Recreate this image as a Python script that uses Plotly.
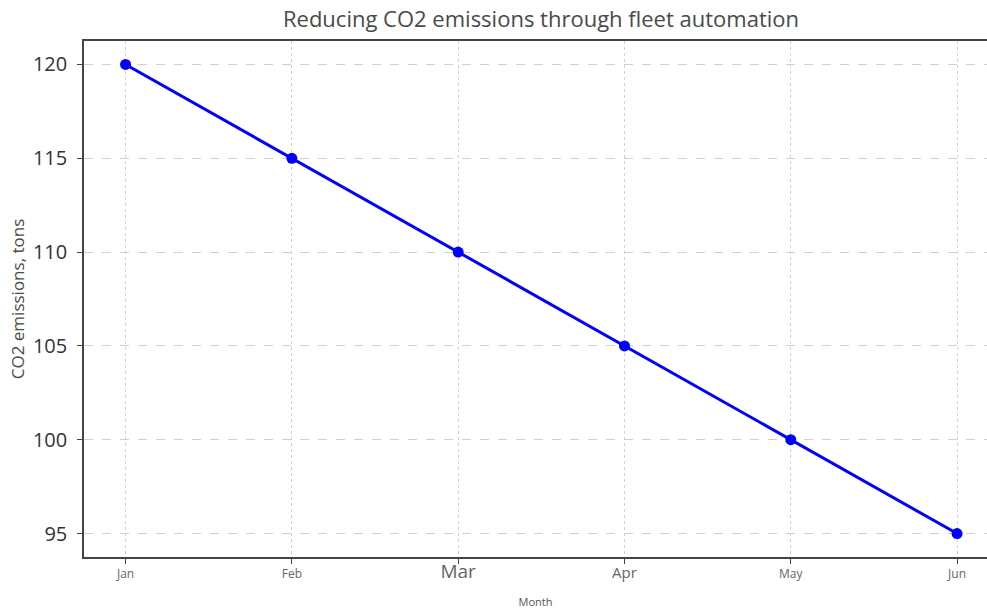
import plotly.graph_objects as go

months = ["Jan", "Feb", "Mar", "Apr", "May", "Jun"]
emissions = [120, 115, 110, 105, 100, 95]
month_label_sizes = [12, 12, 19, 15, 12, 12]
y_ticks = [95, 100, 105, 110, 115, 120]

xpos = list(range(len(months)))
ticktext = [f'<span style="font-size:{s}px">{m}</span>' for m, s in zip(months, month_label_sizes)]

FONT = "Open Sans"

fig = go.Figure()
fig.add_trace(go.Scatter(
    x=xpos, y=emissions, mode="lines+markers",
    line=dict(color="#0000ff", width=3),
    marker=dict(color="#0000ff", size=11),
    showlegend=False,
))

fig.update_layout(
    width=987, height=609,
    margin=dict(l=84, r=0, t=41, b=52),
    paper_bgcolor="white", plot_bgcolor="white",
    font=dict(family=FONT, color="#444444"),
    title=dict(text="Reducing CO2 emissions through fleet automation",
               x=(84 + 998) / 2 / 987, xanchor="center", y=1 - 19 / 609, yanchor="middle",
               font=dict(size=22, color="#4a4a4a")),
)
fig.update_xaxes(
    range=[-0.25, 5.18], tickvals=xpos, ticktext=ticktext,
    showline=True, linecolor="#444444", linewidth=1.5, mirror=True,
    ticks="outside", ticklen=5, tickcolor="#444444",
    showgrid=True, gridcolor="#d0d0d0", griddash="dot", gridwidth=1,
    zeroline=False, tickfont=dict(color="#666666"),
    title=dict(text="Month", font=dict(size=11, color="#555555"), standoff=17),
)
fig.update_yaxes(
    range=[93.75, 121.25], tickvals=y_ticks,
    showline=True, linecolor="#444444", linewidth=1.5,
    ticks="outside", ticklen=5, tickcolor="#444444",
    showgrid=True, gridcolor="#d0d0d0", griddash="dash", gridwidth=1,
    zeroline=False, tickfont=dict(size=20, color="#333333"),
    ticklabelstandoff=6,
    title=dict(text="CO2 emissions, tons", font=dict(size=17, color="#4a4a4a"), standoff=4),
)

fig.write_html(
    "out.html",
    config={"displayModeBar": False},
    post_script="document.body.style.margin='0';document.body.style.overflow='hidden';",
)
